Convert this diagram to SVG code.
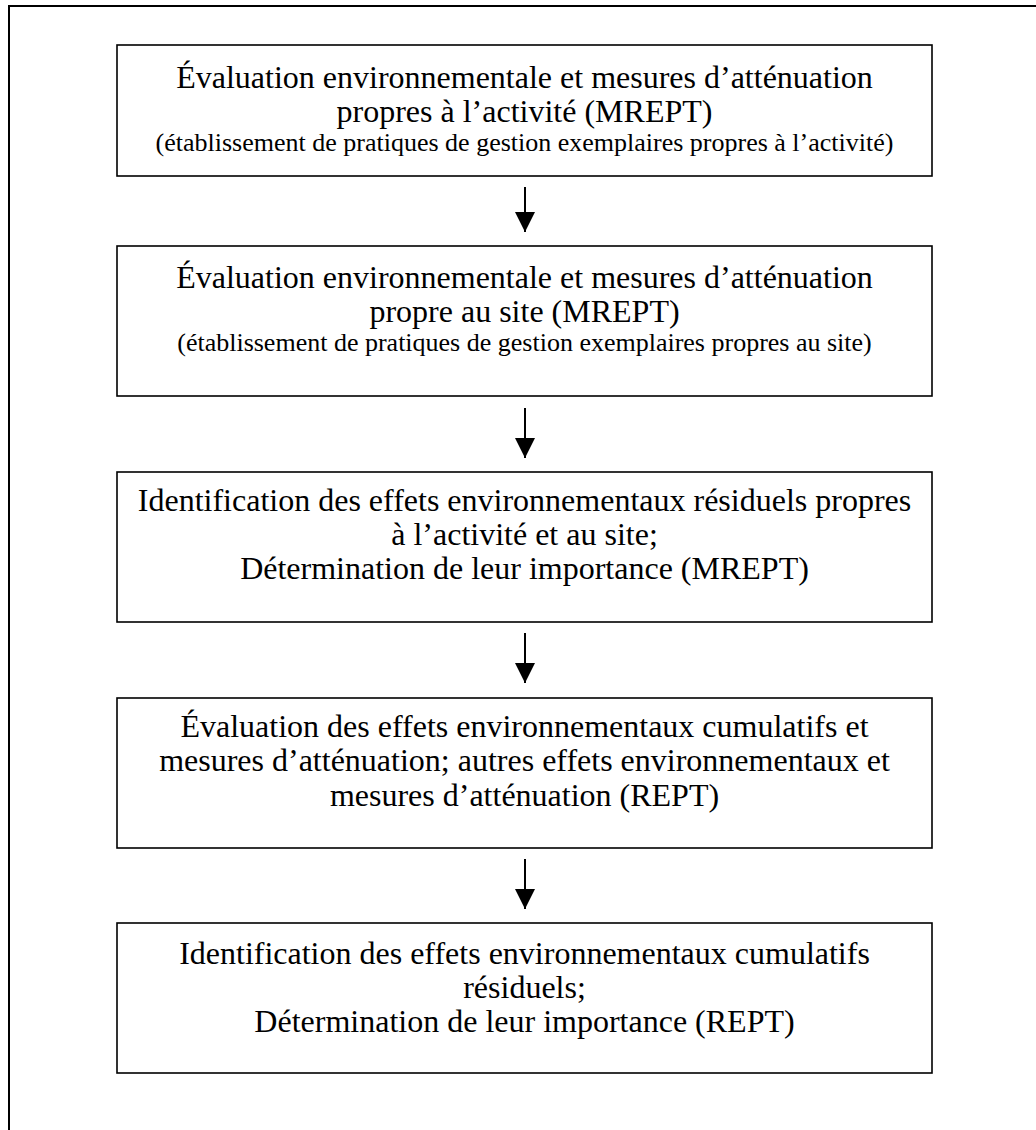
<svg xmlns="http://www.w3.org/2000/svg" width="1036" height="1130" viewBox="0 0 1036 1130">
<style>
  .box { fill: #ffffff; stroke: #000000; stroke-width: 1.6; }
  .t { font-family: "Liberation Serif", "Times New Roman", serif; font-size: 32px; fill: #000; text-anchor: middle; }
  .s { font-family: "Liberation Serif", "Times New Roman", serif; font-size: 26px; fill: #000; text-anchor: middle; }
  .conn { stroke: #000; stroke-width: 2; fill: none; marker-end: url(#arrow); }
</style>
<defs>
  <marker id="arrow" markerUnits="userSpaceOnUse" markerWidth="20" markerHeight="20" refX="20" refY="10" orient="auto">
    <path d="M0,0 L20,10 L0,20 Z" fill="#000"/>
  </marker>
</defs>
<rect x="0" y="0" width="1036" height="1130" fill="#ffffff"/>
<rect id="frame" x="9" y="6" width="1060" height="1160" fill="none" stroke="#000" stroke-width="2"/>

<g id="connectors">
  <line class="conn" x1="525" y1="187" x2="525" y2="232"/>
  <line class="conn" x1="525" y1="408" x2="525" y2="458"/>
  <line class="conn" x1="525" y1="633" x2="525" y2="683"/>
  <line class="conn" x1="525" y1="859" x2="525" y2="909"/>
</g>

<g id="node1">
  <rect class="box" x="117" y="45" width="815" height="131"/>
  <text class="t" x="524.5" y="88">Évaluation environnementale et mesures d’atténuation</text>
  <text class="t" x="524.5" y="122">propres à l’activité (MREPT)</text>
  <text class="s" x="524.5" y="151">(établissement de pratiques de gestion exemplaires propres à l’activité)</text>
</g>

<g id="node2">
  <rect class="box" x="117" y="246" width="815" height="150"/>
  <text class="t" x="524.5" y="288">Évaluation environnementale et mesures d’atténuation</text>
  <text class="t" x="524.5" y="322">propre au site (MREPT)</text>
  <text class="s" x="524.5" y="351">(établissement de pratiques de gestion exemplaires propres au site)</text>
</g>

<g id="node3">
  <rect class="box" x="117" y="472" width="815" height="150"/>
  <text class="t" x="524.5" y="511">Identification des effets environnementaux résiduels propres</text>
  <text class="t" x="524.5" y="545">à l’activité et au site;</text>
  <text class="t" x="524.5" y="579">Détermination de leur importance (MREPT)</text>
</g>

<g id="node4">
  <rect class="box" x="117" y="698" width="815" height="150"/>
  <text class="t" x="524.5" y="737">Évaluation des effets environnementaux cumulatifs et</text>
  <text class="t" x="524.5" y="771">mesures d’atténuation; autres effets environnementaux et</text>
  <text class="t" x="524.5" y="806">mesures d’atténuation (REPT)</text>
</g>

<g id="node5">
  <rect class="box" x="117" y="923" width="815" height="150"/>
  <text class="t" x="524.5" y="964">Identification des effets environnementaux cumulatifs</text>
  <text class="t" x="524.5" y="998">résiduels;</text>
  <text class="t" x="524.5" y="1032">Détermination de leur importance (REPT)</text>
</g>
</svg>
